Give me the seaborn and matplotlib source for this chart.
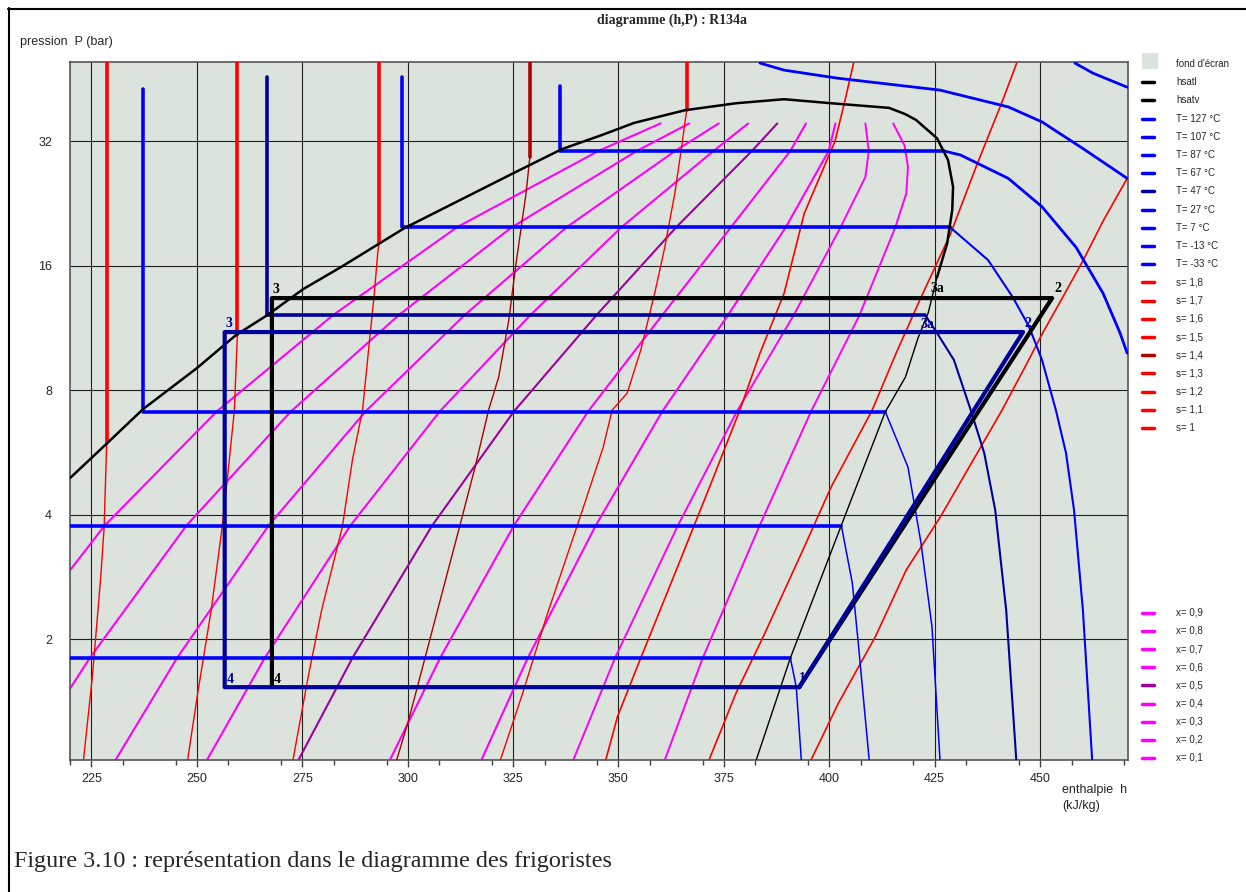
import numpy as np
import pandas as pd
import matplotlib
matplotlib.use("Agg")
import matplotlib.pyplot as plt
import seaborn as sns
from matplotlib.lines import Line2D
from matplotlib.patches import Rectangle

# saturation curve (h in kJ/kg, P in bar)
hsatl_h = [219.9, 228.7, 237.2, 250.0, 259.3, 266.7, 275.2, 284.2, 299.2, 325.2, 336.6, 346.1, 353.7, 365.8, 377.9, 389.3]
hsatl_p = [4.90, 5.95, 7.19, 9.04, 10.87, 12.14, 14.03, 15.87, 19.7, 26.8, 30.6, 33.1, 35.4, 38.0, 39.5, 40.4]
hsatv_top_h = [389.3, 400.5, 414.2, 418.0, 420.6, 425.6, 428.2, 429.4, 429.2, 428.0, 425.6]
hsatv_top_p = [40.4, 39.5, 38.5, 37.2, 36.0, 32.5, 28.8, 24.8, 21.8, 18.1, 15.0]
hsatv_low_h = [425.6, 423.5, 421.1, 418.1, 413.3, 402.9, 390.8, 382.7]
hsatv_low_p = [15.0, 12.3, 10.7, 8.6, 7.08, 3.77, 1.80, 1.02]

# isotherms: liquid + plateau part, then superheated part
t127_h = [458.3, 462.6, 470.7]
t127_p = [49.4, 46.7, 43.2]
t107_h = [383.6, 389.3, 402.1, 426.3, 442.5, 450.5, 460.2, 470.7]
t107_p = [49.4, 47.5, 45.4, 42.5, 38.7, 35.6, 30.7, 26.0]
t87_liq_h = [336.2, 336.2, 427.2]
t87_liq_p = [43.5, 30.3, 30.3]
t87_vap_h = [427.2, 431.2, 442.5, 450.5, 458.6, 465.0, 469.0, 470.7]
t87_vap_p = [30.3, 29.6, 26.0, 22.2, 17.7, 13.7, 11.0, 9.83]
t67_liq_h = [298.7, 298.7, 428.7]
t67_liq_p = [45.7, 19.8, 19.8]
t67_vap_h = [428.7, 437.7, 443.6, 447.4, 450.5, 453.8, 456.2, 458.1, 460.2, 462.4]
t67_vap_p = [19.8, 16.5, 13.4, 11.4, 9.46, 7.15, 5.63, 4.10, 2.35, 1.02]
t47_liq_h = [266.7, 266.7, 422.8]
t47_liq_p = [45.7, 12.14, 12.14]
t47_vap_h = [422.8, 425.6, 429.6, 433.6, 436.8, 439.4, 442.0, 444.4]
t47_vap_p = [12.14, 10.99, 9.46, 7.15, 5.63, 4.10, 2.35, 1.02]
t27_liq_h = [237.1, 237.1, 413.3]
t27_liq_p = [42.8, 7.1, 7.1]
t27_vap_h = [413.3, 418.7, 421.8, 424.4, 426.3]
t27_vap_p = [7.1, 5.21, 3.41, 2.14, 1.02]
t7_liq_h = [208.7, 402.9]
t7_liq_p = [3.76, 3.76]
t7_vap_h = [402.9, 405.5, 406.9, 409.5]
t7_vap_p = [3.76, 2.73, 1.96, 1.02]
tm13_liq_h = [183.0, 390.8]
tm13_liq_p = [1.80, 1.80]
tm13_vap_h = [390.8, 392.2, 393.4]
tm13_vap_p = [1.80, 1.53, 1.02]

# isentropes: vertical liquid part (h, lower P) and the part inside/after the dome
s11_h = [228.6, 228.0, 227.2, 226.4, 225.2, 223.1]
s11_p = [5.95, 3.73, 2.83, 2.26, 1.62, 1.02]
s12_h = [259.6, 258.9, 257.2, 256.0, 253.4, 250.2, 247.8]
s12_p = [10.87, 7.15, 4.85, 3.73, 2.35, 1.48, 1.02]
s13_h = [293.2, 292.9, 292.1, 290.9, 289.3, 286.9, 284.5, 279.6, 276.4, 272.8]
s13_p = [18.1, 17.15, 13.7, 10.4, 7.15, 5.42, 3.73, 2.35, 1.62, 1.02]
s14_h = [329.0, 328.1, 325.6, 324.0, 321.6, 319.2, 316.0, 312.3, 307.1, 303.8, 300.2, 297.4]
s14_p = [29.3, 23.95, 15.87, 11.8, 8.6, 7.15, 5.21, 3.73, 2.35, 1.75, 1.27, 1.02]
s15_h = [366.2, 365.0, 363.4, 361.0, 358.6, 355.3, 352.1, 348.5, 346.4, 340.9, 332.9, 327.3, 322.0]
s15_p = [38.0, 31.0, 23.95, 17.7, 13.7, 9.99, 7.87, 7.15, 5.82, 3.94, 2.26, 1.48, 1.02]
s16_h = [405.8, 403.6, 401.4, 394.1, 389.3, 383.6, 378.8, 372.3, 363.1, 355.4, 349.8, 347.0]
s16_p = [49.4, 39.5, 32.0, 21.4, 13.7, 9.83, 7.15, 4.85, 2.83, 1.81, 1.30, 1.02]
s17_h = [444.5, 440.9, 435.2, 428.8, 421.5, 415.9, 410.2, 400.5, 394.1, 384.4, 377.9, 371.5]
s17_p = [49.4, 39.5, 28.3, 19.1, 13.2, 9.83, 7.15, 4.67, 3.34, 2.03, 1.48, 1.02]
s18_h = [470.7, 465.1, 460.3, 454.6, 450.6, 446.5, 441.0, 426.4, 418.3, 411.0, 402.2, 395.7]
s18_p = [26.0, 20.6, 16.5, 12.96, 10.97, 9.11, 7.15, 3.95, 2.94, 2.03, 1.40, 1.02]

# quality lines, read on the pressure levels of the isotherm plateaus
q_p = [35.3, 30.3, 19.8, 12.14, 7.1, 3.76, 1.80, 1.02]
q01_h = [360.0, 345.3, 311.7, 282.3, 254.7, 228.1, 203.8, 187.2]
q02_h = [366.8, 354.4, 324.7, 297.9, 272.3, 247.5, 224.6, 209.0]
q03_h = [373.8, 363.5, 337.7, 313.5, 290.0, 267.0, 245.3, 230.7]
q04_h = [380.8, 372.6, 350.7, 329.1, 307.6, 286.4, 266.1, 252.4]
q05_h = [387.7, 381.7, 363.7, 344.8, 325.2, 305.8, 286.9, 274.1]
q06_h = [394.5, 390.8, 376.7, 360.4, 342.8, 325.2, 307.7, 295.8]
q07_h = [401.5, 399.9, 389.7, 376.0, 360.4, 344.6, 328.5, 317.5]
# the two last ones bend near the top, extra points read there
q08_h = [408.6, 409.4, 408.6, 402.7, 391.6, 378.1, 364.1, 349.2, 339.3]
q08_p = [35.3, 30.3, 26.2, 19.8, 12.14, 7.1, 3.76, 1.80, 1.02]
q09_h = [415.2, 417.9, 418.7, 418.3, 415.7, 407.2, 395.7, 383.5, 370.0, 361.0]
q09_p = [35.3, 31.2, 27.7, 23.9, 19.8, 12.14, 7.1, 3.76, 1.80, 1.02]

# the two cycles
cyc_black_h = [267.8, 267.8, 452.9, 392.9]
cyc_black_p = [1.53, 13.35, 13.35, 1.53]
cyc_blue_h = [392.9, 256.6, 256.6, 446.0, 392.9]
cyc_blue_p = [1.53, 1.53, 11.05, 11.05, 1.53]

T_labels = [127, 107, 87, 67, 47, 27, 7, -13, -33]
s_labels = ["1,8", "1,7", "1,6", "1,5", "1,4", "1,3", "1,2", "1,1", "1"]
x_labels = ["0,9", "0,8", "0,7", "0,6", "0,5", "0,4", "0,3", "0,2", "0,1"]

BG = "#dbe3dc"
BLUE = "#0000ff"
NAVY = "#00009c"
RED = "#ff0000"
DKRED = "#b00000"
MAG = "#ff00ff"
PURP = "#a000a0"

sns.set_theme(style="white")
plt.rcParams['font.family'] = ['Liberation Sans', 'DejaVu Sans']

W, H = 1246, 892
fig = plt.figure(figsize=(W / 100, H / 100), dpi=100)
ax = fig.add_axes([70 / W, 1 - 760 / H, (1128 - 70) / W, (760 - 62) / H])
ax.set_yscale('log', base=2)
ax.set_facecolor(BG)
TOP = 52


def curve(h, p, color, lw, z=2):
    sns.lineplot(x=h, y=p, color=color, linewidth=lw, sort=False,
                 estimator=None, ax=ax, zorder=z)


# quality lines
q_cols = [MAG] * 4 + [PURP] + [MAG] * 4
for qh, c in zip([q01_h, q02_h, q03_h, q04_h, q05_h, q06_h, q07_h], q_cols):
    curve(qh, q_p, c, 1.5, 2)
curve(q08_h, q08_p, MAG, 1.4, 2)
curve(q09_h, q09_p, MAG, 1.4, 2)

# isentropes
s_tops = [228.6, 259.6, 293.2, 329.0, 366.2]
s_thin = [(s11_h, s11_p), (s12_h, s12_p), (s13_h, s13_p), (s14_h, s14_p), (s15_h, s15_p)]
for i, (top_h, (sh, sp)) in enumerate(zip(s_tops, s_thin)):
    c = DKRED if i == 3 else RED
    curve([top_h, top_h], [TOP, sp[0]], c, 2.6, 3)
    curve(sh, sp, c, 1.0, 3)
for sh, sp in [(s16_h, s16_p), (s17_h, s17_p), (s18_h, s18_p)]:
    curve(sh, sp, RED, 1.2, 3)

# isotherms
curve(t127_h, t127_p, BLUE, 2.0, 4)
curve(t107_h, t107_p, BLUE, 2.0, 4)
iso = [(t87_liq_h, t87_liq_p, t87_vap_h, t87_vap_p, BLUE, 2.0),
       (t67_liq_h, t67_liq_p, t67_vap_h, t67_vap_p, BLUE, 1.5),
       (t47_liq_h, t47_liq_p, t47_vap_h, t47_vap_p, NAVY, 1.5),
       (t27_liq_h, t27_liq_p, t27_vap_h, t27_vap_p, BLUE, 1.1),
       (t7_liq_h, t7_liq_p, t7_vap_h, t7_vap_p, BLUE, 1.1),
       (tm13_liq_h, tm13_liq_p, tm13_vap_h, tm13_vap_p, BLUE, 1.1)]
for lh, lp, vh, vp, c, lw in iso:
    curve(lh, lp, c, 2.6, 4)
    curve(vh, vp, c, lw, 4)

# saturation dome
curve(hsatl_h, hsatl_p, "black", 1.8, 5)
curve(hsatv_top_h, hsatv_top_p, "black", 1.8, 5)
curve(hsatv_low_h, hsatv_low_p, "black", 1.0, 5)

# cycles
curve(cyc_black_h, cyc_black_p, "black", 3.0, 6)
curve(cyc_blue_h, cyc_blue_p, NAVY, 3.0, 7)

pt_labels = [("3", 267.8, 13.35, "black", 1, 2), ("2", 452.9, 13.35, "black", 2, 3),
             ("3a", 424.3, 13.35, "black", -1, 3), ("4", 267.8, 1.53, "black", 2, 1),
             ("3", 256.6, 11.05, NAVY, 1, 2), ("2", 446.0, 11.05, NAVY, 1, 2),
             ("3a", 422.5, 11.05, NAVY, -3, 1), ("4", 256.6, 1.53, NAVY, 2, 1),
             ("1", 392.9, 1.53, NAVY, 0, 2)]
for txt, h, p, c, dx, dy in pt_labels:
    ax.annotate(txt, (h, p), xytext=(dx * 0.72, dy * 0.72), textcoords="offset points",
                ha="left", va="bottom", color=c, fontsize=10, fontweight="bold",
                family=["Liberation Serif", "DejaVu Serif"], zorder=8)

ax.set_xlim(219.9, 470.9)
ax.set_ylim(1.02, 49.7)
ax.set_xticks(np.arange(225, 451, 25))
ax.set_xticks(np.arange(220, 471, 12.5), minor=True)
ax.set_yticks([2, 4, 8, 16, 32])
ax.set_yticklabels(["2", "4", "8", "16", "32"])
ax.yaxis.set_minor_locator(matplotlib.ticker.NullLocator())
ax.grid(True, which="major", color="#202020", linewidth=0.8)
ax.set_axisbelow(True)
ax.tick_params(axis="x", which="major", length=5, width=1, color="#404040",
               pad=4, labelsize=9, bottom=True)
ax.tick_params(axis="x", which="minor", length=3.6, width=1, color="#404040", bottom=True)
ax.tick_params(axis="y", length=0, pad=13, labelsize=9)
for sp in ax.spines.values():
    sp.set_color("#555555")
    sp.set_linewidth(1.2)
ax.set_xlabel("")
ax.set_ylabel("")


def fx(x):
    return x / W


def fy(y):
    return 1 - y / H


fig.text(fx(672), fy(20), "diagramme (h,P) : R134a", ha="center", va="center",
         fontsize=10, fontweight="bold", family=["Liberation Serif", "DejaVu Serif"])
fig.text(fx(20), fy(42), "pression  P (bar)", ha="left", va="center", fontsize=9)
fig.text(fx(1062), fy(790), "enthalpie  h", ha="left", va="center", fontsize=9)
fig.text(fx(1062), fy(806), "(kJ/kg)", ha="left", va="center", fontsize=9)
fig.text(fx(14), fy(862), "Figure 3.10 : représentation dans le diagramme des frigoristes",
         ha="left", va="center", fontsize=17.4, family=["Liberation Serif", "DejaVu Serif"])

# outer frame
fig.add_artist(Line2D([fx(8), fx(1246)], [fy(8.5), fy(8.5)], transform=fig.transFigure,
                      color="black", linewidth=1.5))
fig.add_artist(Line2D([fx(8.5), fx(8.5)], [fy(8), fy(892)], transform=fig.transFigure,
                      color="black", linewidth=1.5))

# legend, drawn by hand next to the plot
top_entries = [("hsatl", "black"), ("hsatv", "black")]
top_entries += [("T= %d °C" % t, NAVY if t == 47 else BLUE) for t in T_labels]
top_entries += [("s= " + s, DKRED if s == "1,4" else RED) for s in s_labels]
fig.add_artist(Rectangle((fx(1142), fy(69)), 16 / W, 16 / H, transform=fig.transFigure,
                         facecolor=BG, edgecolor="none"))
fig.text(fx(1176), fy(64), "fond d'écran", ha="left", va="center", fontsize=7)
for i, (lab, c) in enumerate(top_entries):
    y = 64 + 18.2 * (i + 1)
    fig.add_artist(Line2D([fx(1142), fx(1154)], [fy(y), fy(y)], transform=fig.transFigure,
                          color=c, linewidth=2.5))
    fig.text(fx(1176), fy(y), lab, ha="left", va="center", fontsize=7)
for j, (lab, c) in enumerate(zip(x_labels, q_cols)):
    y = 612.7 + 18.16 * j
    fig.add_artist(Line2D([fx(1142), fx(1154)], [fy(y), fy(y)], transform=fig.transFigure,
                          color=c, linewidth=2.5))
    fig.text(fx(1176), fy(y), "x= " + lab, ha="left", va="center", fontsize=7)

fig.savefig("out.png", dpi=100, facecolor="white")
